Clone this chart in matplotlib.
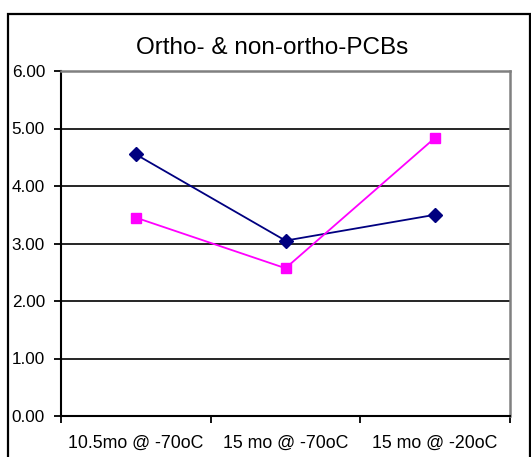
import matplotlib
matplotlib.use("Agg")
import matplotlib.pyplot as plt
from matplotlib.patches import Rectangle

# storage conditions and the two PCB series
conditions = ["10.5mo @ -70oC", "15 mo @ -70oC", "15 mo @ -20oC"]
ortho = [4.55, 3.05, 3.50]
non_ortho = [3.45, 2.57, 4.84]

plt.rcParams["font.family"] = ["Liberation Sans", "DejaVu Sans"]

W, H = 531, 457
fig = plt.figure(figsize=(W / 100, H / 100), dpi=100)

# chart frame
fig.patches.append(Rectangle((8 / W, -0.05), (530 - 8) / W, 1.05 - 14 / H,
                             transform=fig.transFigure, fill=False,
                             edgecolor="black", linewidth=1.6))

fig.text(272 / W, 1 - 48 / H, "Ortho- & non-ortho-PCBs", ha="center",
         va="center", fontsize=17.5)

ax = fig.add_axes([61 / W, (H - 416) / H, (510 - 61) / W, (416 - 71) / H])
x = range(len(conditions))
ax.plot(x, ortho, color="#000080", marker="D", markersize=7, linewidth=1.3)
ax.plot(x, non_ortho, color="#FF00FF", marker="s", markersize=7,
        markeredgecolor="#FF00FF", linewidth=1.3)

ax.set_xlim(-0.5, 2.5)
ax.set_ylim(0, 6)
ax.set_yticks(range(0, 7))
ax.set_yticklabels(["%.2f" % v for v in range(0, 7)], fontsize=12.3)
for v in range(1, 6):
    ax.axhline(v, color="black", linewidth=1.2, zorder=0)

# category labels between boundary ticks
ax.set_xticks([-0.5, 0.5, 1.5, 2.5])
ax.set_xticklabels([])
ax.set_xticks(list(x), minor=True)
ax.set_xticklabels(conditions, minor=True, fontsize=12.8)
ax.tick_params(axis="x", which="minor", length=0, pad=13.5)
ax.tick_params(axis="x", which="major", direction="out", length=5, width=1.3)
ax.tick_params(axis="y", direction="out", length=5, width=1.3, pad=6.5)

ax.spines["left"].set_linewidth(1.5)
ax.spines["bottom"].set_linewidth(1.5)
ax.spines["top"].set_color("#808080")
ax.spines["right"].set_color("#808080")
ax.spines["top"].set_linewidth(1.8)
ax.spines["right"].set_linewidth(1.8)

fig.savefig("out.png", dpi=100)
